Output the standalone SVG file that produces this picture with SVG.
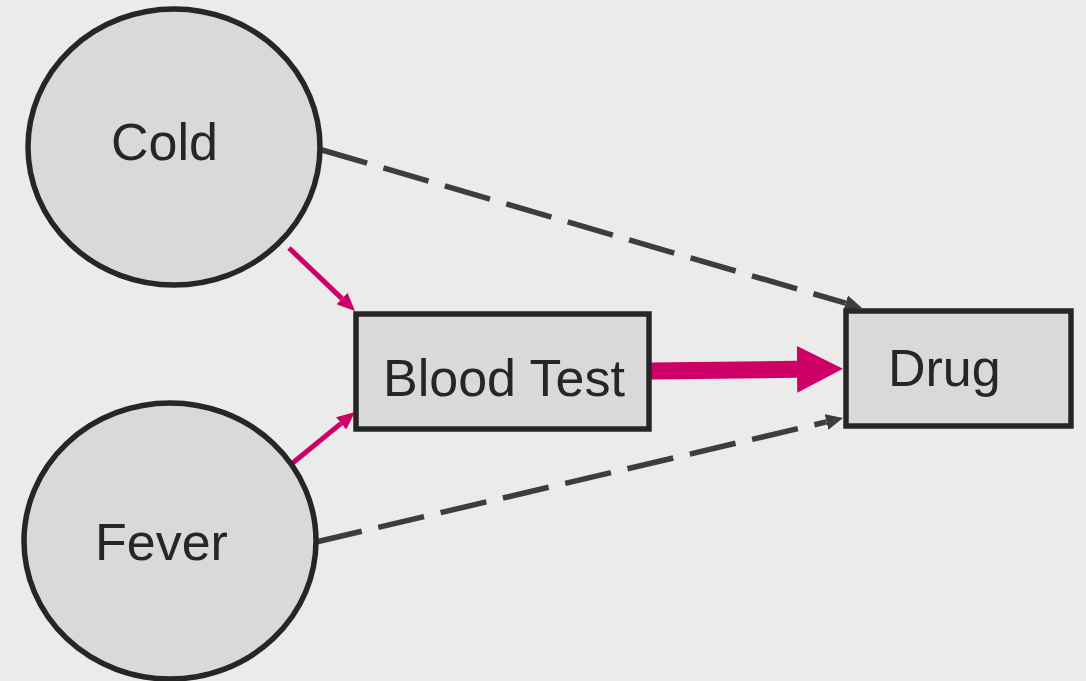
<svg xmlns="http://www.w3.org/2000/svg" width="1086" height="681" viewBox="0 0 1086 681">
  <style>
    .node { fill: #d9d9d9; stroke: #262626; stroke-width: 5.5; }
    .label { font-family: "Liberation Sans", Arial, sans-serif; font-size: 52px; fill: #262626; }
    .dashed { fill: none; stroke: #3d3d3d; stroke-width: 5.5; stroke-dasharray: 47 17; }
    .pink { fill: none; stroke: #cc0066; stroke-width: 5; }
    .pink-thick { fill: none; stroke: #cc0066; stroke-width: 17; }
  </style>
  <defs>
    <marker id="head-grey" markerUnits="userSpaceOnUse" markerWidth="18" markerHeight="16" refX="0" refY="8" orient="auto">
      <path d="M0,0 L17,8 L0,16 z" fill="#3d3d3d"/>
    </marker>
    <marker id="head-pink" markerUnits="userSpaceOnUse" markerWidth="19" markerHeight="16" refX="0" refY="8" orient="auto">
      <path d="M0,0 L18,8 L0,16 z" fill="#cc0066"/>
    </marker>
    <marker id="head-pink-big" markerUnits="userSpaceOnUse" markerWidth="47" markerHeight="48" refX="0" refY="23.5" orient="auto">
      <path d="M0,0 L46,23.5 L0,47 z" fill="#cc0066"/>
    </marker>
  </defs>

  <rect width="1086" height="681" fill="#ebebeb"/>

  <g id="connectors">
    <path class="dashed" d="M322,150 L845.7,303.2" marker-end="url(#head-grey)"/>
    <path class="dashed" d="M316,542 L826.5,421.9" marker-end="url(#head-grey)"/>
    <path class="pink" d="M289,248 L342,298.6" marker-end="url(#head-pink)"/>
    <path class="pink" d="M289,466 L341.1,423.4" marker-end="url(#head-pink)"/>
    <path class="pink-thick" d="M650,371 L797,369.3" marker-end="url(#head-pink-big)"/>
  </g>

  <g id="cold">
    <ellipse class="node" cx="174" cy="147" rx="146" ry="138"/>
    <text class="label" x="111" y="160">Cold</text>
  </g>

  <g id="fever">
    <ellipse class="node" cx="170" cy="541" rx="146" ry="138"/>
    <text class="label" x="95" y="560">Fever</text>
  </g>

  <g id="blood-test">
    <rect class="node" x="356" y="314" width="293" height="115"/>
    <text class="label" x="383" y="396">Blood Test</text>
  </g>

  <g id="drug">
    <rect class="node" x="846" y="311" width="225" height="115"/>
    <text class="label" x="888" y="386">Drug</text>
  </g>
</svg>
